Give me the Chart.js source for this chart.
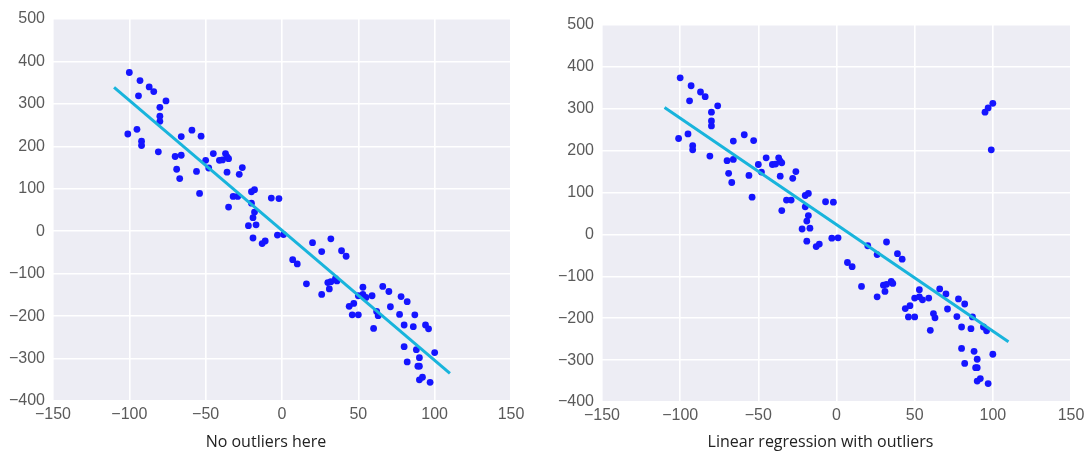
<!DOCTYPE html>
<html>
<head>
<meta charset="utf-8">
<script src="https://cdn.jsdelivr.net/npm/chart.js@4"></script>
<style>
	html, body { margin: 0; padding: 0; background: #fff; }
	.panel { position: absolute; top: 0; height: 454px; }
	#leftPanel { left: 0; width: 532px; }
	#rightPanel { left: 551px; width: 539px; }
</style>
</head>
<body>
<div class="panel" id="leftPanel"><canvas id="leftChart"></canvas></div>
<div class="panel" id="rightPanel"><canvas id="rightChart"></canvas></div>
<script>
// sample points (same in both panels)
const pointX = [-100, -93, -87, -84, -94, -76, -80, -80, -80, -101, -95, -92, -92, -81, -59, -53, -66, -70, -66, -69,
	-67, -56, -54, -50, -48, -45, -41, -39, -37, -36, -35, -36, -28, -26, -35, -32, -29, -20, -18, -20,
	-18, -19, -22, -17, -7, -2, -19, -11, -13, -3, 1, 7, 10, 20, 26, 32, 39, 42, 16, 26,
	30, 31, 32, 35, 36, 53, 50, 53, 55, 59, 44, 47, 46, 50, 62, 63, 60, 66, 70, 71,
	77, 78, 82, 87, 80, 86, 94, 96, 80, 88, 90, 82, 89, 90, 90, 92, 97, 100];
const pointY = [374, 355, 340, 329, 319, 307, 292, 271, 259, 229, 240, 212, 202, 187, 238, 224, 223, 176, 179, 146,
	124, 141, 89, 167, 149, 183, 167, 168, 183, 175, 171, 139, 134, 150, 57, 82, 82, 93, 98, 66,
	45, 32, 13, 15, 78, 77, -16, -23, -29, -9, -8, -67, -77, -27, -48, -18, -46, -59, -124, -149,
	-121, -136, -119, -112, -117, -132, -152, -149, -156, -152, -177, -170, -197, -197, -189, -199, -229, -130, -142, -178,
	-196, -154, -166, -197, -221, -225, -221, -230, -272, -279, -298, -308, -318, -318, -350, -344, -356, -286];

// extra points in the right panel
const outlierX = [95, 97, 100, 99];
const outlierY = [292, 302, 313, 202];

// fitted lines (end points)
const fitX = [-110, 110];
const fitLeftY = [339, -335];
const fitRightY = [303, -256];

const titles = ["No outliers here", "Linear regression with outliers"];

const toPoints = (xs, ys) => xs.map((x, i) => ({ x: x, y: ys[i] }));
const minus = (v) => String(v).replace("-", "\u2212");

const plotBg = {
	id: "plotBg",
	beforeDraw: (chart) => {
		const a = chart.chartArea;
		const ctx = chart.ctx;
		ctx.save();
		ctx.fillStyle = "#ededf4";
		ctx.fillRect(a.left, a.top, a.right - a.left, a.bottom - a.top);
		ctx.restore();
	},
};

const tickFont = { family: "'Liberation Sans', Arial, sans-serif", size: 16 };

const createPanel = (ctx, points, fitY, title, box) => {
	return new Chart(ctx, {
		type: "scatter",
		data: {
			datasets: [
				{
					type: "line",
					data: toPoints(fitX, fitY),
					borderColor: "#18b4dc",
					borderWidth: 3,
					pointRadius: 0,
					fill: false,
					order: 0,
				},
				{
					data: points,
					backgroundColor: "#1515ff",
					borderWidth: 0,
					pointRadius: 3.4,
					order: 1,
				},
			],
		},
		options: {
			responsive: true,
			maintainAspectRatio: false,
			animation: false,
			events: [],
			layout: {
				padding: { top: box.top, right: 0, left: 0, bottom: 0 },
			},
			plugins: {
				legend: { display: false },
				tooltip: { enabled: false },
				title: {
					display: true,
					position: "bottom",
					text: title,
					color: "#222",
					font: { family: "'Open Sans', sans-serif", size: 16, weight: "normal", lineHeight: 1.2 },
					padding: { top: 0, bottom: 2 },
				},
			},
			scales: {
				x: {
					min: -150,
					max: 150,
					ticks: {
						stepSize: 50,
						padding: 4,
						color: "#5a5a5a",
						font: tickFont,
						callback: minus,
					},
					grid: { color: "#ffffff", lineWidth: 1.6, drawTicks: false },
					border: { display: false },
					afterFit: (scale) => {
						scale.height = box.xh;
					},
				},
				y: {
					min: -400,
					max: 500,
					ticks: {
						stepSize: 100,
						padding: 8,
						color: "#5a5a5a",
						font: tickFont,
						callback: minus,
					},
					grid: { color: "#ffffff", lineWidth: 1.6, drawTicks: false },
					border: { display: false },
					afterFit: (scale) => {
						scale.width = box.yw;
					},
				},
				// empty spacer on the right so the caption centres like the original
				spacer: {
					type: "linear",
					position: "right",
					grid: { display: false },
					ticks: { display: false },
					border: { display: false },
					afterFit: (scale) => {
						scale.width = box.right;
					},
				},
			},
		},
		plugins: [plotBg],
	});
};

const basePoints = toPoints(pointX, pointY);
createPanel(document.getElementById("leftChart").getContext("2d"), basePoints, fitLeftY, titles[0],
	{ top: 19, right: 21, xh: 31.8, yw: 53 });
createPanel(document.getElementById("rightChart").getContext("2d"),
	basePoints.concat(toPoints(outlierX, outlierY)), fitRightY, titles[1],
	{ top: 25, right: 19, xh: 30.8, yw: 51 });
</script>
</body>
</html>
